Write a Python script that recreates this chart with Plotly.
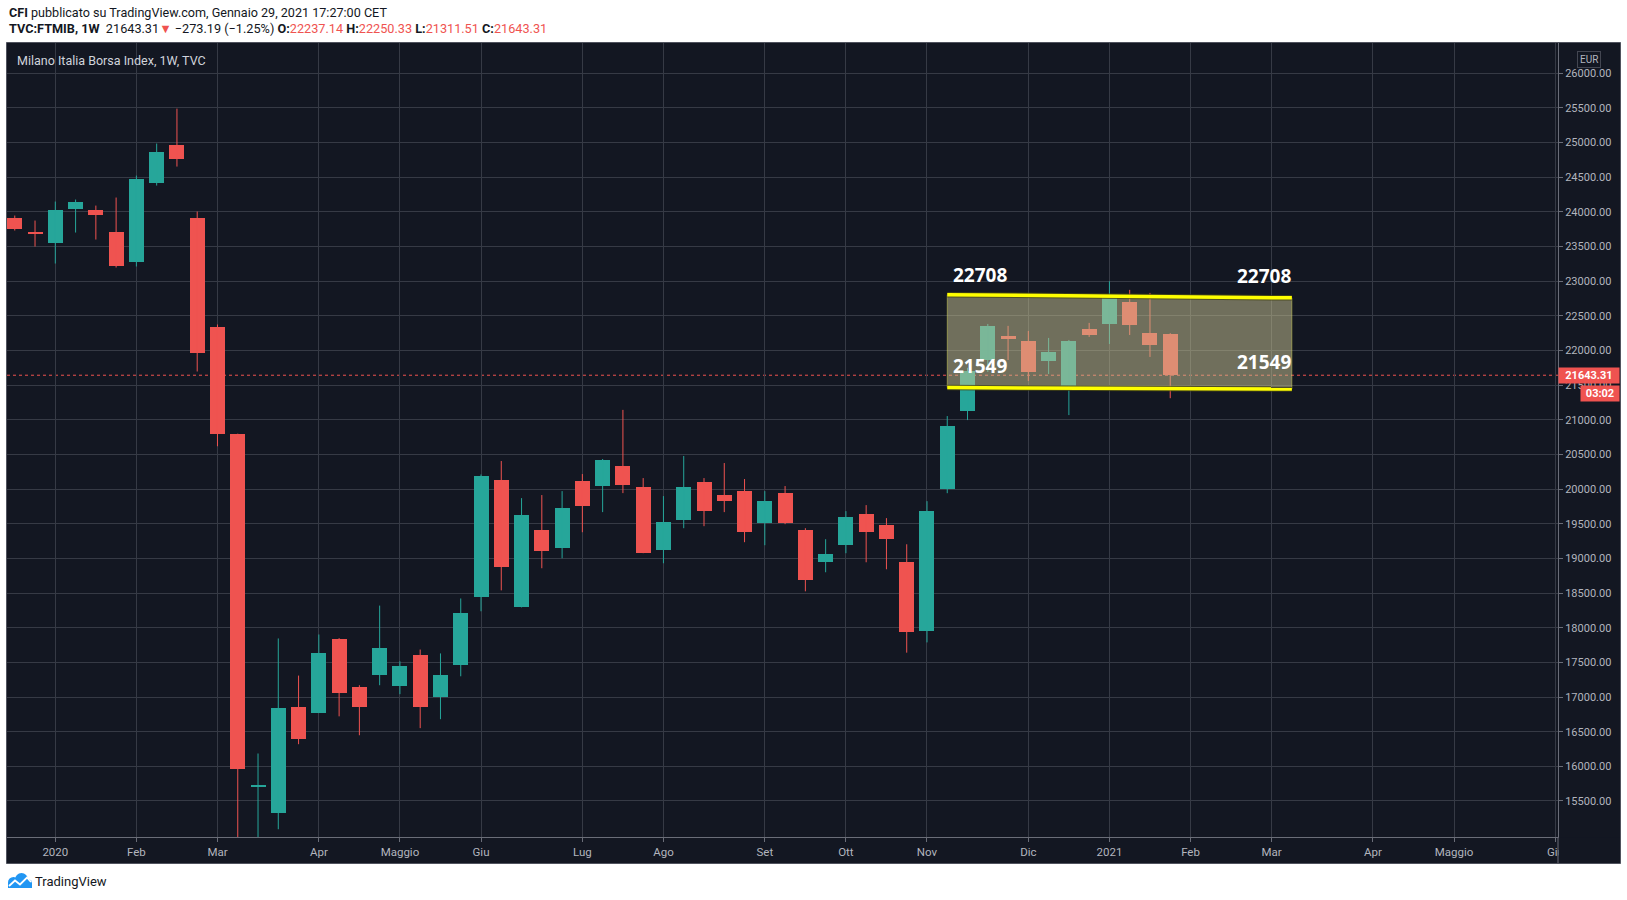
import plotly.graph_objects as go
import pandas as pd

# ---------------- data (weekly candles, TVC:FTMIB) ----------------
weeks = ["2019-12-23", "2019-12-30", "2020-01-06", "2020-01-13", "2020-01-20", "2020-01-27",
         "2020-02-03", "2020-02-10", "2020-02-17", "2020-02-24", "2020-03-02", "2020-03-09",
         "2020-03-16", "2020-03-23", "2020-03-30", "2020-04-06", "2020-04-13", "2020-04-20",
         "2020-04-27", "2020-05-04", "2020-05-11", "2020-05-18", "2020-05-25", "2020-06-01",
         "2020-06-08", "2020-06-15", "2020-06-22", "2020-06-29", "2020-07-06", "2020-07-13",
         "2020-07-20", "2020-07-27", "2020-08-03", "2020-08-10", "2020-08-17", "2020-08-24",
         "2020-08-31", "2020-09-07", "2020-09-14", "2020-09-21", "2020-09-28", "2020-10-05",
         "2020-10-12", "2020-10-19", "2020-10-26", "2020-11-02", "2020-11-09", "2020-11-16",
         "2020-11-23", "2020-11-30", "2020-12-07", "2020-12-14", "2020-12-21", "2020-12-28",
         "2021-01-04", "2021-01-11", "2021-01-18", "2021-01-25"]
opens = [23918, 23716, 23558, 24048, 24034, 23716, 23284, 24423, 24971, 23918, 22346, 20789,
         15701, 15324, 16860, 16768, 17830, 17149, 17314, 17154, 17613, 17000, 17458, 18443,
         20131, 18293, 19407, 19147, 20116, 20044, 20333, 20029, 19118, 19552, 20102, 19914,
         19971, 19509, 19942, 19407, 18944, 19190, 19639, 19480, 18944, 17947, 19999, 21126,
         21863, 22210, 22138, 21849, 21487, 22311, 22383, 22701, 22253, 22237.14]
highs = [23947, 23875, 24149, 24178, 24091, 24207, 24524, 24986, 25490, 24005, 22375, 20800,
         16185, 17845, 17309, 17902, 17850, 17170, 18319, 17515, 17685, 17629, 18422, 20211,
         20405, 19870, 19914, 19971, 20217, 20434, 21143, 20159, 19899, 20478, 20159, 20376,
         20145, 19971, 20044, 19436, 19277, 19682, 19769, 19581, 19204, 19826, 21054, 21750,
         22383, 22355, 22282, 22181, 22152, 22398, 23000, 22875, 22831, 22250.33]
lows = [23731, 23500, 23255, 23702, 23601, 23197, 23212, 24380, 24654, 21697, 20618, 14153,
        14900, 15092, 16319, 16768, 16721, 16448, 17170, 17041, 16551, 16680, 17299, 18237,
        18539, 18293, 18858, 19002, 19378, 19668, 19942, 19075, 18930, 19436, 19465, 19668,
        19234, 19190, 19494, 18525, 18800, 19075, 18944, 18843, 17640, 17788, 19941, 20996,
        21690, 21863, 21560, 21661, 21068, 22196, 22094, 22224, 21907, 21311.51]
closes = [23750, 23692, 24034, 24149, 23962, 23226, 24481, 24870, 24769, 21971, 20794, 15958,
          15737, 16835, 16391, 17629, 17056, 16855, 17701, 17453, 16855, 17324, 18206, 20196,
          18872, 19624, 19103, 19725, 19754, 20420, 20058, 19075, 19523, 20029, 19682, 19827,
          19378, 19827, 19509, 18684, 19060, 19595, 19378, 19277, 17932, 19681, 20909, 21704,
          22355, 22167, 21690, 21979, 22138, 22224, 22778, 22369, 22080, 21643.31]

month_ticks = ["2020-01-06", "2020-02-03", "2020-03-02", "2020-04-06", "2020-05-04", "2020-06-01",
               "2020-07-06", "2020-08-03", "2020-09-07", "2020-10-05", "2020-11-02", "2020-12-07",
               "2021-01-04", "2021-02-01", "2021-03-01", "2021-04-05", "2021-05-03", "2021-06-07"]
month_labels = ["2020", "Feb", "Mar", "Apr", "Maggio", "Giu", "Lug", "Ago", "Set", "Ott", "Nov",
                "Dic", "2021", "Feb", "Mar", "Apr", "Maggio", "Giu"]
price_ticks = [15500, 16000, 16500, 17000, 17500, 18000, 18500, 19000, 19500, 20000, 20500,
               21000, 21500, 22000, 22500, 23000, 23500, 24000, 24500, 25000, 25500, 26000]

last_price = 21643.31
range_top_label = "22708"
range_bottom_label = "21549"
box_dates = ["2020-11-09", "2021-03-08"]
box_top = [22805, 22760]
box_bottom = [21465, 21443]

# ---------------- styling / layout helpers ----------------
UP = "#26a69a"
DOWN = "#ef5350"
BG = "#131722"
GRID = "#363a45"
AXIS = "#6a6d78"
TXT = "#b2b5be"
W, H = 1627, 900
L, R, T, B = 7, 69, 43, 63
PW, PH = W - L - R, H - T - B


def px(xp):
    return (xp - L) / PW


def py(yp):
    return (H - B - yp) / PH


def ms(d):
    return pd.Timestamp(d).value // 10**6


fig = go.Figure()

# candle bodies
body_base = [min(o, c) for o, c in zip(opens, closes)]
body_len = [abs(c - o) for o, c in zip(opens, closes)]
colors = [UP if c >= o else DOWN for o, c in zip(opens, closes)]
fig.add_trace(go.Bar(x=weeks, y=body_len, base=body_base, width=15 / (PW / 535.6) * 86400000,
                     marker=dict(color=colors, line=dict(width=0)), hoverinfo="skip"))

# wicks
for col, up in ((UP, True), (DOWN, False)):
    xs, ys = [], []
    for d, o, h, l, c in zip(weeks, opens, highs, lows, closes):
        if (c >= o) == up:
            xs += [d, d, None]
            ys += [l, h, None]
    fig.add_trace(go.Scatter(x=xs, y=ys, mode="lines", line=dict(color=col, width=1),
                             hoverinfo="skip"))

shapes = []
# chart frame
shapes.append(dict(type="rect", xref="paper", yref="paper", x0=px(6.5), x1=px(1620.5),
                   y0=py(863.5), y1=py(42.5), fillcolor=BG, line=dict(color="#50535e", width=1),
                   layer="below"))
# last price dotted line
shapes.append(dict(type="line", xref="paper", yref="y", x0=0, x1=1, y0=last_price, y1=last_price,
                   line=dict(color=DOWN, width=1, dash="dot"), layer="between"))
# range box fill
x0m, x1m = ms(box_dates[0]), ms(box_dates[1])
path = (f"M {x0m},{box_top[0]} L {x1m},{box_top[1]} L {x1m},{box_bottom[1]} "
        f"L {x0m},{box_bottom[0]} Z")
shapes.append(dict(type="path", xref="x", yref="y", path=path,
                   fillcolor="rgba(205,200,150,0.5)", line=dict(color="rgba(230,230,90,0.45)", width=1),
                   layer="above"))
for ys in (box_top, box_bottom):
    shapes.append(dict(type="line", xref="x", yref="y", x0=box_dates[0], x1=box_dates[1],
                       y0=ys[0], y1=ys[1], line=dict(color="rgba(70,70,20,0.8)", width=5.5),
                       layer="above"))
    shapes.append(dict(type="line", xref="x", yref="y", x0=box_dates[0], x1=box_dates[1],
                       y0=ys[0], y1=ys[1], line=dict(color="#ffff00", width=3.5), layer="above"))
# cover the overflowing last date label under the price scale
shapes.append(dict(type="rect", xref="paper", yref="paper", x0=px(1558.6), x1=px(1620),
                   y0=py(863), y1=py(837.6), fillcolor=BG, line=dict(width=0), layer="above"))
shapes.append(dict(type="line", xref="paper", yref="paper", x0=1, x1=1, y0=py(863), y1=0,
                   line=dict(color=AXIS, width=1), layer="above"))
# TradingView logo (cloud)
for cx, cy, r in ((13.5, 882.5, 5.5), (21.5, 879.5, 6.5), (27.5, 883.5, 4.5)):
    shapes.append(dict(type="circle", xref="paper", yref="paper", x0=px(cx - r), x1=px(cx + r),
                       y0=py(cy + r), y1=py(cy - r), fillcolor="#2196f3", line=dict(width=0)))
shapes.append(dict(type="rect", xref="paper", yref="paper", x0=px(8), x1=px(32), y0=py(888),
                   y1=py(883), fillcolor="#2196f3", line=dict(width=0)))
logo_pts = [(9, 886), (15, 880.5), (20, 884.5), (27, 877.5), (31, 882)]
shapes.append(dict(type="path", xref="paper", yref="paper",
                   path="M " + " L ".join(f"{px(a)},{py(b)}" for a, b in logo_pts),
                   line=dict(color="white", width=1.8)))

font_ui = "Roboto, 'Noto Sans', sans-serif"
ann = []
ann.append(dict(xref="paper", yref="paper", x=px(7), y=py(12.5), xanchor="left", yanchor="middle",
                showarrow=False, font=dict(family=font_ui, size=12.6, color="#131722"),
                text="<b>CFI</b> pubblicato su TradingView.com, Gennaio 29, 2021 17:27:00 CET"))
red = DOWN
ann.append(dict(xref="paper", yref="paper", x=px(7), y=py(29), xanchor="left", yanchor="middle",
                showarrow=False, font=dict(family=font_ui, size=12.7, color="#131722"),
                text=(f"<b>TVC:FTMIB, 1W</b>  {last_price:.2f}<span style='color:{red}'>▼</span> "
                      f"−273.19 (−1.25%) <b>O:</b><span style='color:{red}'>{opens[-1]:.2f}</span> "
                      f"<b>H:</b><span style='color:{red}'>{highs[-1]:.2f}</span> "
                      f"<b>L:</b><span style='color:{red}'>{lows[-1]:.2f}</span> "
                      f"<b>C:</b><span style='color:{red}'>{closes[-1]:.2f}</span>")))
ann.append(dict(xref="paper", yref="paper", x=px(15), y=py(60), xanchor="left", yanchor="middle",
                showarrow=False, font=dict(family=font_ui, size=12.5, color="#d1d4dc"),
                text="Milano Italia Borsa Index, 1W, TVC"))
ann.append(dict(xref="paper", yref="paper", x=px(1589), y=py(59.5), xanchor="center",
                yanchor="middle", showarrow=False, font=dict(family=font_ui, size=10, color=TXT),
                text="EUR", bordercolor="#434651", borderwidth=1, borderpad=2))
ann.append(dict(xref="paper", yref="y", x=1, y=last_price, xanchor="left", yanchor="middle",
                showarrow=False, font=dict(family=font_ui, size=11, color="white"),
                text=f"<b>{last_price:.2f}</b>", bgcolor=DOWN, width=60, height=15, borderpad=0))
ann.append(dict(xref="paper", yref="paper", x=px(1620), y=py(393.3), xanchor="right",
                yanchor="middle", showarrow=False, font=dict(family=font_ui, size=11, color="white"),
                text="<b>03:02</b>", bgcolor=DOWN, width=38, height=15, borderpad=0))
lab_font = dict(family="'Open Sans', sans-serif", size=19, color="white")
ann.append(dict(xref="paper", yref="paper", x=px(951), y=py(275), xanchor="left", yanchor="middle",
                showarrow=False, font=lab_font, text=f"<b>{range_top_label}</b>"))
ann.append(dict(xref="paper", yref="paper", x=px(1293), y=py(276), xanchor="right", yanchor="middle",
                showarrow=False, font=lab_font, text=f"<b>{range_top_label}</b>"))
ann.append(dict(xref="paper", yref="paper", x=px(951), y=py(366), xanchor="left", yanchor="middle",
                showarrow=False, font=lab_font, text=f"<b>{range_bottom_label}</b>"))
ann.append(dict(xref="paper", yref="paper", x=px(1293), y=py(362), xanchor="right", yanchor="middle",
                showarrow=False, font=lab_font, text=f"<b>{range_bottom_label}</b>"))
ann.append(dict(xref="paper", yref="paper", x=px(33), y=py(881.5), xanchor="left", yanchor="middle",
                showarrow=False, font=dict(family=font_ui, size=13, color="#131722"),
                text="TradingView"))

fig.update_layout(
    width=W, height=H, autosize=False,
    margin=dict(l=L, r=R, t=T, b=B, pad=0),
    paper_bgcolor="white", plot_bgcolor=BG,
    showlegend=False, hovermode=False, bargap=0,
    shapes=shapes, annotations=ann,
    xaxis=dict(type="date", range=["2019-12-20 07:40", "2021-06-07 21:30"],
               tickmode="array", tickvals=month_ticks, ticktext=month_labels,
               showgrid=True, gridcolor=GRID, gridwidth=1, zeroline=False,
               showline=True, linecolor=AXIS, linewidth=1,
               ticks="outside", ticklen=4, tickcolor=AXIS,
               tickfont=dict(family=font_ui, size=11.5, color=TXT), fixedrange=True),
    yaxis=dict(side="right", range=[14980, 26437], tickmode="array", tickvals=price_ticks,
               tickformat=".2f", showgrid=True, gridcolor=GRID, gridwidth=1, zeroline=False,
               showline=True, linecolor=AXIS, linewidth=1,
               ticks="outside", ticklen=4, tickcolor=AXIS,
               tickfont=dict(family=font_ui, size=11, color=TXT), fixedrange=True),
)

fig.write_html("out.html")
